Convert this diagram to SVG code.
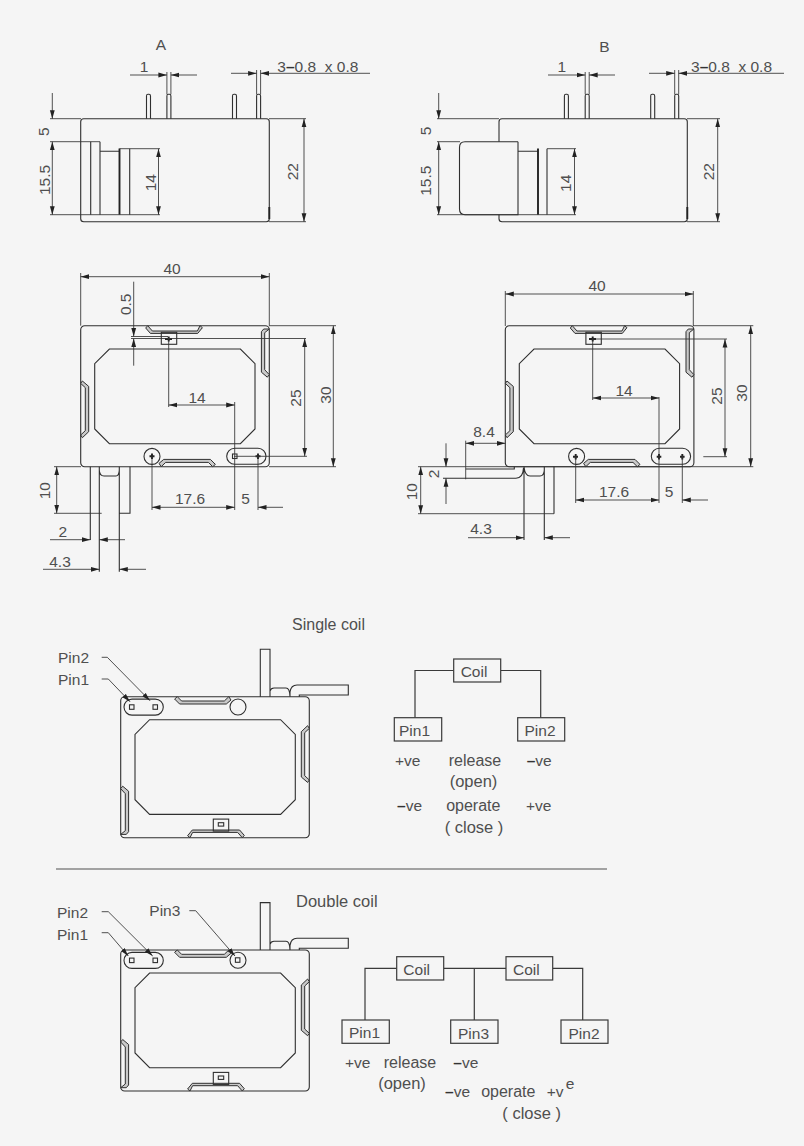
<svg xmlns="http://www.w3.org/2000/svg" width="804" height="1146" viewBox="0 0 804 1146">
<style>
text{font-family:"Liberation Sans",Arial,sans-serif;font-size:15.5px;fill:#4f4f4f;white-space:pre}
.m{text-anchor:middle}
.l{font-size:16px}
.x{font-size:16.5px}
.d{font-weight:bold;fill:#333}
.o,.o *{fill:none;stroke:#2f2f2f;stroke-width:1.1}
.t{fill:none;stroke:#333;stroke-width:.85}
.a{fill:none;stroke:#333;stroke-width:.85;marker-end:url(#arr)}
.k{fill:none;stroke:#222;stroke-width:1.9}
.s{fill:#c9c9c9;stroke:#2f2f2f;stroke-width:1}
.b{fill:#f5f5f5;stroke:#3a3a3a;stroke-width:1.2}
.w{fill:none;stroke:#3a3a3a;stroke-width:1.2}
</style>
<defs>
<marker id="arr" markerUnits="userSpaceOnUse" markerWidth="10" markerHeight="7" refX="8.5" refY="3" orient="auto"><path d="M0,0.6L8.5,3L0,5.4Z" fill="#222"/></marker>
<g id="plate">
<rect class="o" x="0" y="0" width="188.6" height="141" rx="4"/>
<path class="o" d="M28.7,23.3H159.7L174.3,38V103.3L159.7,118H28.7L14,103.3V38Z"/>
<path class="s" d="M65,2.3L67,0L71.7,5.3H116.7L119.3,0L121.7,2L117,7.7H69.7Z"/>
<path class="s" d="M78.3,137.7L83,133.7H129.7L134.7,138.7L132,141L127.7,136.7H85L80.5,141Z"/>
<path class="s" d="M0,57.7L1.7,55.3L8,60.7V106L1.7,112L0,109.3L4.6,105V62Z"/>
<path class="s" d="M180.7,6L183,3.3H188.6L184,7V44L188.6,49L186.6,51.5L180.7,46.5Z"/>
<rect class="o" x="80.6" y="6.6" width="15.4" height="12"/>
<circle class="o" cx="71.3" cy="130.7" r="8"/>
<rect class="o" x="146" y="122.6" width="39.3" height="16" rx="8"/>
</g>
<path id="pin" class="o" d="M0,24.4V1.7Q0,0 1.5,0H2.5Q4,0 4,1.7V24.4"/>
<g id="device">
<use href="#plate" transform="translate(309.3,837.7) rotate(180)"/>
<path class="o" d="M260.3,696.7V649.3H270V696.7M270,691Q271,688 274,688H286Q289.7,688 290,696.7M290,696.7V692Q291,685 297,685H348.3V695H299.3V696.7"/>
<rect class="o" x="129.5" y="704.8" width="4.5" height="4.5"/>
<rect class="o" x="153" y="704.8" width="4.5" height="4.5"/>
<rect class="o" x="218.3" y="822.7" width="5.4" height="3.4"/>
</g>
</defs>
<rect width="804" height="1146" fill="#f5f5f5"/>

<g id="side-view-a">
<rect class="o" x="80.7" y="118.7" width="188.6" height="103" rx="3"/>
<path class="k" d="M269.3,207V219"/>
<use href="#pin" x="146.5" y="94.3"/><use href="#pin" x="166.9" y="94.3"/><use href="#pin" x="232.5" y="94.3"/><use href="#pin" x="256.6" y="94.3"/>
<path class="o" d="M90.7,141.7V214.7M100,141.7V214.7M100,151.3H119.5M129.7,148.7V214.7"/>
<path class="k" d="M119.5,148.5V214.7"/>
</g>
<g id="side-view-b">
<path class="o" d="M499,141.7V121.7Q499,118.7 502,118.7H684.3Q687.3,118.7 687.3,121.7V218.7Q687.3,221.7 684.3,221.7H502Q499,221.7 499,218.7V214.7"/>
<path class="k" d="M687.3,207V219"/>
<use href="#pin" x="564.4" y="94.3"/><use href="#pin" x="585.2" y="94.3"/><use href="#pin" x="650.7" y="94.3"/><use href="#pin" x="674.7" y="94.3"/>
<path class="o" d="M518,141.7H465Q459.5,141.7 459.5,147.5V209Q459.5,214.7 465,214.7H518V141.7M518,151.3H538M547,148.7V214.7"/>
<path class="k" d="M538,148.5V214.7"/>
</g>
<g id="top-view-a">
<use href="#plate" x="80.7" y="325.7"/>
<path class="o" d="M90.3,466.7V540M99.3,466.7V571.7M119.3,466.7V571.7M130,466.7V513.3H119.3M99.3,470Q99.5,476 104,476H116Q119,476 119.3,470"/>
<rect class="o" x="232.5" y="454" width="4.5" height="4.5"/>
<path class="k" d="M165,339H172M168.7,336.5V341.5M149.5,456.3H154.5M152,453.5V459M255.5,456.3H260.5M258,453.5V459"/>
</g>
<g id="top-view-b">
<use href="#plate" x="505.3" y="325.7"/>
<path class="o" d="M524,466.7V540M544.3,466.7V540M554,466.7V513.7M524,466.7Q525,476 530,476H540Q544,476 544.3,470M443,478.3H516Q523,478 523.5,468M465.7,469H514.3V466.7"/>
<path class="k" d="M589,339H596M592.7,336.5V341.5M573,456.7H578M575.7,454V459.5M656.7,456.7H661.3M659,454V459.5M680,456.7H684.6M682.3,454V459.5"/>
</g>
<g id="single-coil-device"><use href="#device"/></g>
<g id="double-coil-device"><use href="#device" y="253.3"/>
<rect class="o" x="235.4" y="957.8" width="4.5" height="4.5"/>
</g>
<g id="connectors">
<path class="t" d="M166.9,72V94.3M170.9,72V94.3M256.6,70V94.3M260.6,70V94.3M50,118.7H81M50,141.7H100M50,214.7H160M119.5,148.7H160M269,118.7H306M269,221.7H306"/>
<path class="a" d="M130,75H166.9"/><path class="a" d="M197,75H170.9"/>
<path class="a" d="M231,73.3H256.6"/><path class="a" d="M370,73.3H260.6"/>
<path class="a" d="M52.3,93V118.7"/>
<path class="a" d="M52.3,178V141.7"/><path class="a" d="M52.3,178V214.7"/>
<path class="a" d="M158.5,181V148.7"/><path class="a" d="M158.5,181V214.7"/>
<path class="a" d="M304,170V118.7"/><path class="a" d="M304,170V221.7"/>
<path class="t" d="M585.2,72V94.3M589.2,72V94.3M674.7,70V94.3M678.7,70V94.3M437,118.7H499M437,141.7H460M437,214.7H576M547,148.7H576M687,118.7H720M687,221.7H720"/>
<path class="a" d="M548,75H585.2"/><path class="a" d="M615,75H589.2"/>
<path class="a" d="M649,73.3H674.7"/><path class="a" d="M784,73.3H678.7"/>
<path class="a" d="M438.7,93V118.7"/>
<path class="a" d="M438.7,178V141.7"/><path class="a" d="M438.7,178V214.7"/>
<path class="a" d="M574.5,181V148.7"/><path class="a" d="M574.5,181V214.7"/>
<path class="a" d="M717.7,170V118.7"/><path class="a" d="M717.7,170V221.7"/>
<path class="t" d="M80.7,273V325.7M269.3,273V325.7M269,325.7H336M131,336.5H168M131,338.5H306M168.7,339V407M234.7,402V510M152,456.3V510M258,456.3V510M234,456.3H307M269,466.7H336M54,466.7H81M54,513.3H101.7"/>
<path class="a" d="M175,276.7H80.7"/><path class="a" d="M175,276.7H269.3"/>
<path class="a" d="M133.7,281.7V336.5"/><path class="a" d="M133.7,365.7V338.5"/>
<path class="a" d="M200,405H168.7"/><path class="a" d="M200,405H234.7"/>
<path class="a" d="M304.7,398V338.5"/><path class="a" d="M304.7,398V456.3"/>
<path class="a" d="M333.3,396V325.7"/><path class="a" d="M333.3,396V466.7"/>
<path class="a" d="M190,507.3H152"/><path class="a" d="M190,507.3H234.7"/><path class="a" d="M283,507.3H258"/>
<path class="a" d="M56.7,490V466.7"/><path class="a" d="M56.7,490V513.3"/>
<path class="a" d="M50,539.7H90.3"/><path class="a" d="M125,539.7H99.3"/>
<path class="a" d="M43,569.3H99.3"/><path class="a" d="M146,569.3H119.3"/>
<path class="t" d="M505.3,291V326M693.3,291V326M693,325.7H753.3M592,339H727M592.7,339V400M659,397V503M575.7,456V503M682.3,456V503M703.3,456.7H727M505,466.7H753.3M418,466.7H505M418,513.7H554M465.7,440.7V479.3"/>
<path class="a" d="M600,294H505.3"/><path class="a" d="M600,294H693.3"/>
<path class="a" d="M725,398V339"/><path class="a" d="M725,398V456.7"/>
<path class="a" d="M750.7,396V325.7"/><path class="a" d="M750.7,396V466.7"/>
<path class="a" d="M625,398H592.7"/><path class="a" d="M625,398H659"/>
<path class="a" d="M614,500H575.7"/><path class="a" d="M614,500H659"/><path class="a" d="M708,500H682.3"/>
<path class="a" d="M484,443.3H465.7"/><path class="a" d="M484,443.3H505.3"/>
<path class="a" d="M446,443.3V466.7"/><path class="a" d="M446,504V478.3"/>
<path class="a" d="M420.7,490V466.7"/><path class="a" d="M420.7,490V513.7"/>
<path class="a" d="M468,537.7H524"/><path class="a" d="M570,537.7H544.3"/>
<path class="a" d="M101.7,657.3H107.3L150,700.7"/>
<path class="a" d="M101.7,679H108.3L130,701.7"/>
<path class="a" d="M101.7,911.7H108.3L152.7,956"/>
<path class="a" d="M101.7,932.7H108.3L128.3,956"/>
<path class="a" d="M189.3,910.7H195.7L235,956"/>
<path class="t" d="M56,869H607"/>
<path class="w" d="M453.7,670.5H415V717.7M500.7,670.5H540.7V717.7"/>
<path class="w" d="M396.7,968.3H365V1020M443.7,968.3H506M474.3,968.3V1020M552.7,968.3H582.7V1020"/>
</g>
<g id="coil-single"><rect class="b" x="453.7" y="659" width="47" height="23"/><text class="m" x="474" y="676.7">Coil</text></g>
<g id="pin1-single"><rect class="b" x="394.3" y="717.7" width="47.4" height="23.3"/><text class="m" x="414.5" y="736">Pin1</text></g>
<g id="pin2-single"><rect class="b" x="517.7" y="717.7" width="47" height="23.3"/><text class="m" x="540" y="736">Pin2</text></g>
<g id="coil1-double"><rect class="b" x="396.7" y="956.7" width="47" height="23.3"/><text class="m" x="416.7" y="975">Coil</text></g>
<g id="coil2-double"><rect class="b" x="506" y="956.7" width="46.7" height="23.3"/><text class="m" x="526.3" y="975">Coil</text></g>
<g id="pin1-double"><rect class="b" x="342" y="1020" width="47.3" height="23.3"/><text class="m" x="364.5" y="1037.7">Pin1</text></g>
<g id="pin3-double"><rect class="b" x="450.7" y="1020" width="47.3" height="23.3"/><text class="m" x="473.5" y="1038.5">Pin3</text></g>
<g id="pin2-double"><rect class="b" x="561" y="1020" width="47" height="23.3"/><text class="m" x="584" y="1038.5">Pin2</text></g>
<g id="labels">
<text class="m" x="161" y="50">A</text>
<text class="m" x="604.3" y="51.5">B</text>
<text class="m" x="144" y="71.7">1</text>
<text class="m" x="561.7" y="71.7">1</text>
<text x="277.3" y="71.7">3<tspan class="d">–</tspan>0.8  x 0.8</text>
<text x="691" y="71.7">3<tspan class="d">–</tspan>0.8  x 0.8</text>
<text class="m" transform="translate(48.8,131.7) rotate(-90)">5</text>
<text class="m" transform="translate(49.5,180) rotate(-90)">15.5</text>
<text class="m" transform="translate(155.5,182.7) rotate(-90)">14</text>
<text class="m" transform="translate(298.2,171.7) rotate(-90)">22</text>
<text class="m" transform="translate(430.5,131) rotate(-90)">5</text>
<text class="m" transform="translate(430.5,180.7) rotate(-90)">15.5</text>
<text class="m" transform="translate(571.2,183.3) rotate(-90)">14</text>
<text class="m" transform="translate(713.8,171.7) rotate(-90)">22</text>
<text class="m" x="172" y="274">40</text>
<text class="m" transform="translate(130.5,304.3) rotate(-90)">0.5</text>
<text class="m" x="197" y="403">14</text>
<text class="m" transform="translate(301,398) rotate(-90)">25</text>
<text class="m" transform="translate(330.5,395) rotate(-90)">30</text>
<text class="m" x="190" y="503.5">17.6</text>
<text class="m" x="245.5" y="503.5">5</text>
<text class="m" transform="translate(49.5,490.7) rotate(-90)">10</text>
<text class="m" x="62.7" y="537">2</text>
<text class="m" x="60" y="566.7">4.3</text>
<text class="m" x="597" y="291">40</text>
<text class="m" x="624" y="396">14</text>
<text class="m" transform="translate(721.5,396) rotate(-90)">25</text>
<text class="m" transform="translate(746.5,393) rotate(-90)">30</text>
<text class="m" x="614" y="497">17.6</text>
<text class="m" x="669" y="497">5</text>
<text class="m" x="484" y="436.7">8.4</text>
<text class="m" transform="translate(438.5,474) rotate(-90)">2</text>
<text class="m" transform="translate(416.5,491.7) rotate(-90)">10</text>
<text class="m" x="481" y="534">4.3</text>
<text class="l" x="292" y="630">Single coil</text>
<text x="58" y="662.7">Pin2</text>
<text x="58" y="685">Pin1</text>
<text x="395" y="765.7">+ve</text>
<text class="m l" x="475" y="765.7">release</text>
<text x="526.7" y="765.7"><tspan class="d">–</tspan>ve</text>
<text class="m x" x="473.5" y="786.7">(open)</text>
<text x="397" y="811"><tspan class="d">–</tspan>ve</text>
<text class="m l" x="473.3" y="811">operate</text>
<text x="526" y="811">+ve</text>
<text class="m x" x="474" y="832.7">( close )</text>
<text class="x" x="296" y="907">Double coil</text>
<text x="57" y="918.3">Pin2</text>
<text x="57" y="940">Pin1</text>
<text x="149.3" y="916">Pin3</text>
<text x="345" y="1068.3">+ve</text>
<text class="m l" x="410" y="1068.3">release</text>
<text x="453.3" y="1068.3"><tspan class="d">–</tspan>ve</text>
<text class="m x" x="402" y="1089.3">(open)</text>
<text x="445" y="1097.3"><tspan class="d">–</tspan>ve</text>
<text class="m l" x="508.3" y="1097.3">operate</text>
<text x="546.7" y="1097.3">+v</text>
<text x="565.7" y="1089.3">e</text>
<text class="m x" x="531.7" y="1119">( close )</text>
</g>
</svg>
